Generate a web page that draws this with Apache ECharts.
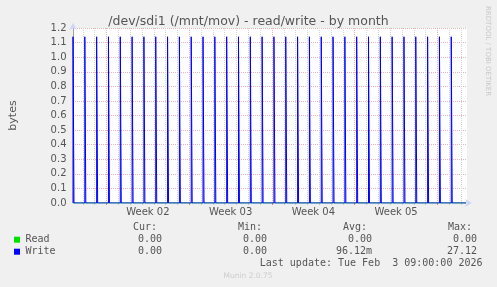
<!DOCTYPE html>
<html>
<head>
<meta charset="utf-8">
<script src="https://cdn.jsdelivr.net/npm/echarts@6/dist/echarts.min.js"></script>
<style>
html,body{margin:0;padding:0;background:#f0f0f0;}
#c{width:497px;height:287px;}
</style>
</head>
<body>
<div id="c"></div>
<script>
// Time axis in hours from the left edge of the plot (800 h = 2 h per pixel)
const dayLineHours = [20,44,92,116,140,164,188,212,260,284,308,332,356,380,428,452,476,500,524,548,596,620,644,668,692,716,764,788];
const weekLineHours = [68,236,404,572,740];
const weekLabelHours = [152,320,488,656];
const weekLabels = ['Week 02','Week 03','Week 04','Week 05'];
const yTicks = [0,0.1,0.2,0.3,0.4,0.5,0.6,0.7,0.8,0.9,1.0,1.1,1.2];

// Write spikes (start hour, height), each lasting one 2 h step
const writeSpikeHours = [0,24,48,72,96,120,144,168,192,216,240,264,288,312,336,360,384,408,432,456,480,504,528,552,576,600,624,648,672,696,720,744,768];
const writeSpikeValues = [1.14,1.14,1.14,1.14,1.14,1.14,1.14,1.14,1.14,1.14,1.14,1.14,1.14,1.14,1.14,1.14,1.14,1.14,1.14,1.14,1.14,1.14,1.14,1.14,1.14,1.14,1.14,1.14,1.14,1.14,1.14,1.14,1.14];
const stepHours = 2;
const readHours = [0,798];
const readValues = [0,0];

const legendNames = ['Read','Write'];
const legendColors = ['#00e000','#0000ff'];
const legendCur = ['0.00','0.00'];
const legendMin = ['0.00','0.00'];
const legendAvg = ['0.00','96.12m'];
const legendMax = ['0.00','27.12'];
const lastUpdate = 'Last update: Tue Feb  3 09:00:00 2026';

const writeData = [];
writeSpikeHours.forEach((h, i) => {
  const v = writeSpikeValues[i];
  writeData.push([h, 0], [h, v], [h + stepHours, v], [h + stepHours, 0]);
});
writeData.push([798, 0]);
const readData = readHours.map((h, i) => [h, readValues[i]]);

const FONT = 'DejaVu Sans';
const MONO = 'DejaVu Sans Mono';
const TXT = '#555555';
const AXIS = '#CFD6F8';
const MGRID = '#ecb4b4';
const GRID = '#d4d4d4';

const chart = echarts.init(document.getElementById('c'));

const graphics = [];
graphics.push({type:'text', left: 484, top: 6, rotation: -Math.PI/2, originX: 0, originY: 0,
  style:{text:'RRDTOOL / TOBI OETIKER', fill:'#c8c8c8', font:'7px ' + FONT}});
const hdr = [['Cur:',157],['Min:',262],['Avg:',367],['Max:',472]];
hdr.forEach(h => graphics.push({type:'text', x:h[1], y:227.5,
  style:{text:h[0], fill:TXT, font:'10px ' + MONO, textAlign:'right', textVerticalAlign:'middle'}}));
legendNames.forEach((n, i) => {
  const y = 239.7 + i * 12;
  graphics.push({type:'rect', shape:{x:14, y:y-3, width:6, height:6}, style:{fill:legendColors[i]}});
  graphics.push({type:'text', x:25.5, y:y, style:{text:n, fill:TXT, font:'10px ' + MONO, textVerticalAlign:'middle'}});
  [[legendCur,162],[legendMin,267],[legendAvg,372],[legendMax,477]].forEach(c => {
    graphics.push({type:'text', x:c[1], y:y, style:{text:c[0][i], fill:TXT, font:'10px ' + MONO, textAlign:'right', textVerticalAlign:'middle'}});
  });
});
graphics.push({type:'text', x:482.5, y:263.3, style:{text:lastUpdate, fill:TXT, font:'10px ' + MONO, textAlign:'right', textVerticalAlign:'middle'}});
graphics.push({type:'text', x:248, y:276, style:{text:'Munin 2.0.75', fill:'#cccccc', font:'7.5px ' + FONT, textAlign:'center', textVerticalAlign:'middle'}});

const baseX = {type:'value', min:0, max:800, gridIndex:0, position:'bottom'};
chart.setOption({
  backgroundColor:'#f0f0f0',
  animation:false,
  title:{text:'/dev/sdi1 (/mnt/mov) - read/write - by month', left:'center', top:10,
    textStyle:{fontFamily:FONT, fontSize:12.5, fontWeight:'normal', color:TXT}},
  grid:{left:67, right:30, top:28, bottom:84, show:true, backgroundColor:'#ffffff', borderWidth:0},
  xAxis:[
    Object.assign({}, baseX, {
      axisLine:{show:true, lineStyle:{color:AXIS, width:1}, symbol:['none','arrow'], symbolSize:[6,7], symbolOffset:[0,5]},
      axisTick:{show:true, customValues:dayLineHours, length:2, lineStyle:{color:'#c8c8c8'}},
      axisLabel:{show:false},
      splitLine:{show:true, lineStyle:{color:GRID, type:[1,1], width:1}}
    }),
    Object.assign({}, baseX, {
      axisLine:{show:false},
      axisTick:{show:true, customValues:weekLineHours, length:2, lineStyle:{color:'#e08080'}},
      axisLabel:{show:false},
      splitLine:{show:true, lineStyle:{color:MGRID, type:[1,1], width:1}}
    }),
    Object.assign({}, baseX, {
      axisLine:{show:false},
      axisTick:{show:false},
      axisLabel:{show:true, customValues:weekLabelHours, margin:4, fontFamily:FONT, fontSize:10, color:TXT,
        formatter:(v) => weekLabels[weekLabelHours.indexOf(Math.round(v))] || ''},
      splitLine:{show:false}
    })
  ],
  yAxis:[
    {type:'value', min:0, max:1.2, interval:0.1, position:'left',
      name:'bytes', nameLocation:'middle', nameRotate:90, nameGap:54,
      nameTextStyle:{fontFamily:FONT, fontSize:11, color:TXT},
      axisLine:{show:true, lineStyle:{color:AXIS}, symbol:['none','arrow'], symbolSize:[6,7], symbolOffset:[0,5]},
      axisTick:{show:false},
      axisLabel:{margin:6.5, fontFamily:FONT, fontSize:10, color:TXT,
        formatter:(v) => { const t = yTicks.find(x => Math.abs(x - v) < 1e-6); return (t === undefined ? v : t).toFixed(1); }},
      splitLine:{show:true, lineStyle:{color:MGRID, type:[1,1], width:1}}
    },
    {type:'value', min:0, max:1.2, position:'right',
      axisLine:{show:true, lineStyle:{color:'#a0a0a0'}}, axisTick:{show:false}, axisLabel:{show:false}, splitLine:{show:false}}
  ],
  series:[
    {name:'Read', type:'line', xAxisIndex:0, yAxisIndex:0, data:readData, showSymbol:false,
      lineStyle:{color:legendColors[0], width:1}, z:3},
    {name:'Write', type:'line', xAxisIndex:0, yAxisIndex:0, data:writeData, showSymbol:false,
      lineStyle:{color:legendColors[1], width:1}, z:4}
  ],
  graphic:graphics
});
</script>
</body>
</html>
